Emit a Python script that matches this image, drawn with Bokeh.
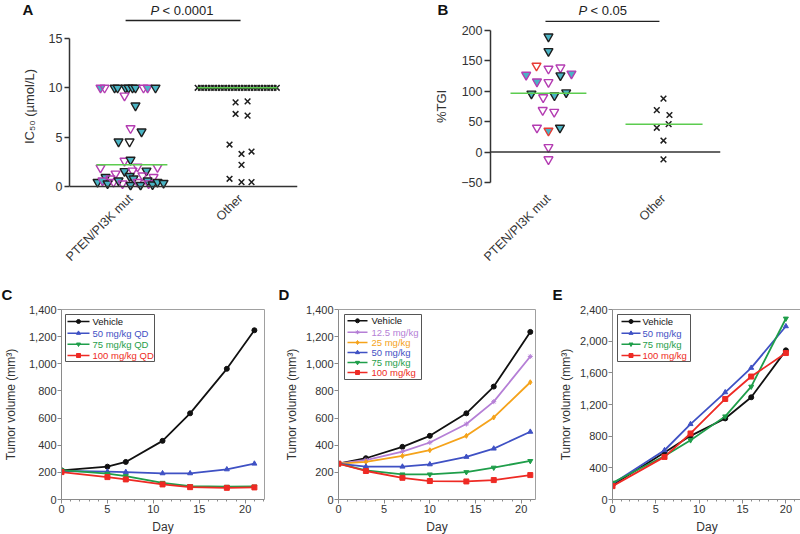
import math
from bokeh.plotting import figure
from bokeh.layouts import column, row
from bokeh.models import (ColumnDataSource, FixedTicker, SingleIntervalTicker, LinearAxis,
                          NumeralTickFormatter, Span, Range1d)
from bokeh.core.properties import value
from bokeh.embed import file_html
from bokeh.resources import INLINE

FONT = "Liberation Sans"

# ---------------- Panel A data (IC50, umol/L) ----------------
a_categories = ["PTEN/PI3K mut", "Other"]
a_pten_ic50 = [10, 10, 10, 10, 10, 10, 10, 10, 10, 10, 10,
               9.2, 8.2, 5.9, 5.56, 4.55, 4.55, 2.6, 2.7,
               1.9, 1.55, 1.6, 2.0, 1.6, 1.95, 1.3, 0.95, 0.8, 1.05, 1.1, 0.95, 0.8,
               0.45, 0.6, 0.3, 0.45, 0.6, 0.3, 0.15, 0.45, 0.15, 0.6, 0.3, 0.2, 0.45, 0.35]
a_pten_jitter = [-0.273, -0.236, -0.145, -0.118, -0.045, -0.018, 0.018, 0.045, 0.118, 0.155, 0.227,
                 -0.055, 0.045, 0.0, 0.1, -0.109, -0.009, -0.055, 0.0,
                 -0.273, -0.055, 0.018, 0.064, 0.145, 0.245, -0.136, -0.227, -0.182, -0.009, 0.109, 0.209, 0.027,
                 -0.3, -0.255, -0.209, -0.155, -0.109, -0.073, 0.0, 0.064, 0.091, 0.155, 0.164, 0.2, 0.245, 0.3]
a_pten_kind = ["MC", "M", "C", "C", "C", "C", "C", "C", "M", "MC", "C",
               "M", "C", "M", "C", "C", "K", "M", "C",
               "M", "C", "M", "M", "C", "M", "M", "C", "M", "C", "M", "M", "C",
               "C", "MC", "C", "M", "C", "M", "C", "M", "C", "C", "M", "C", "C", "C"]
a_other_ic50 = [10] * 25 + [8.53, 8.63, 7.35, 7.18, 4.25, 3.3, 3.54, 2.19, 0.78, 0.44, 0.44]
a_other_jitter = [-0.39, -0.36, -0.33, -0.30, -0.27, -0.24, -0.21, -0.18, -0.15, -0.12, -0.09, -0.06,
                  -0.03, 0.0, 0.03, 0.06, 0.09, 0.12, 0.15, 0.18, 0.21, 0.24, 0.27, 0.30, 0.33,
                  -0.045, 0.064, -0.045, 0.064, -0.1, 0.009, 0.1, 0.009, -0.1, 0.009, 0.1]
a_median = [2.2, 10.0]
a_pvalue = "< 0.0001"

# ---------------- Panel B data (%TGI) ----------------
b_pten_tgi = [190, 166, 142, 137, 139, 127, 126, 129, 116, 115, 96, 90, 93, 98,
              69, 66, 40, 35, 40, 8, -12]
b_pten_jitter = [0.0, 0.0, -0.104, 0.0, 0.104, -0.194, 0.104, 0.2, -0.1, 0.0, -0.148, -0.046, 0.052, 0.154,
                 -0.05, 0.05, -0.1, 0.0, 0.1, 0.0, 0.0]
b_pten_kind = ["C", "C", "R", "M", "M", "MC", "C", "MC", "MC", "M", "C", "M", "C", "C",
               "M", "M", "M", "RC", "C", "M", "M"]
b_other_tgi = [88, 69, 61, 46, 40, 19, -12]
b_other_jitter = [0.0, -0.058, 0.052, 0.045, -0.058, 0.0, 0.0]
b_median = [97, 46]
b_pvalue = "< 0.05"

# ---------------- Panel C data (tumor volume, mm3) ----------------
c_days = [0, 5, 7, 11, 14, 18, 21]
c_vehicle = [215, 242, 277, 432, 635, 963, 1247]
c_50qd = [210, 205, 202, 193, 193, 222, 264]
c_75qd = [217, 190, 173, 123, 99, 94, 96]
c_100qd = [202, 165, 148, 111, 91, 86, 89]
c_names = ["Vehicle", "50 mg/kg QD", "75 mg/kg QD", "100 mg/kg QD"]

# ---------------- Panel D data ----------------
d_days = [0, 3, 7, 10, 14, 17, 21]
d_vehicle = [264, 304, 388, 469, 635, 832, 1235]
d_12_5 = [264, 291, 353, 420, 556, 721, 1054]
d_25 = [264, 277, 321, 363, 469, 605, 864]
d_50 = [264, 242, 242, 259, 314, 375, 499]
d_75 = [264, 215, 185, 185, 202, 235, 284]
d_100 = [264, 210, 160, 136, 133, 143, 180]
d_names = ["Vehicle", "12.5 mg/kg", "25 mg/kg", "50 mg/kg", "75 mg/kg", "100 mg/kg"]

# ---------------- Panel E data ----------------
e_days = [0, 6, 9, 13, 16, 20]
e_vehicle = [182, 593, 804, 1024, 1291, 1884]
e_50 = [199, 622, 952, 1354, 1663, 2188]
e_75 = [212, 550, 749, 1050, 1426, 2286]
e_100 = [169, 538, 834, 1270, 1553, 1850]
e_names = ["Vehicle", "50 mg/kg", "75 mg/kg", "100 mg/kg"]

panel_letters = ["A", "B", "C", "D", "E"]

# ---------------- styles ----------------
MAG = "#b43cb2"
CYAN = "#4ab4c4"
DARK = "#1e1e1e"
RED_T = "#e83a34"
GREEN_MED = "#5ccc4f"
KIND = {"M": (MAG, "#ffffff", 0.0), "C": (DARK, CYAN, 1.0), "MC": (MAG, CYAN, 1.0),
        "K": (DARK, "#ffffff", 0.0), "R": (RED_T, "#ffffff", 0.0), "RC": (RED_T, CYAN, 1.0)}

BLACK = "#111111"
BLUE = "#3f51c4"
GREEN = "#1f9e4a"
RED = "#ee2a24"
PURPLE = "#b57fd6"
ORANGE = "#f5a31b"


def mapper(x0, x1, fw, y0, y1, fh):
    fx = lambda px: x0 + px * (x1 - x0) / fw
    fy = lambda py: y1 - py * (y1 - y0) / fh
    return fx, fy


def bare(width, height, xr):
    h = figure(width=width, height=height, x_range=Range1d(*xr), y_range=Range1d(height, 0),
               min_border=0, x_axis_location=None, y_axis_location=None,
               output_backend="svg", toolbar_location=None)
    h.grid.visible = False
    h.outline_line_color = None
    return h


def letter(h, x, y, txt):
    h.text(x=[x], y=[y], text=[txt], text_font=value(FONT), text_font_size=value("15px"),
           text_font_style=value("bold"), text_baseline="top", text_align="left",
           text_color="#111111")


def header(width, frame_left_px, x_at_frame_left, scale, letter_px, letter_txt, p_px, txt,
           line_x, line_y):
    start = x_at_frame_left - frame_left_px / scale
    end = start + width / scale
    h = bare(width, 22, (start, end))
    hx = lambda px: start + px / scale
    letter(h, hx(letter_px), 0, letter_txt)
    h.text(x=[hx(p_px)], y=[2], text=["P"], text_font=value(FONT), text_font_size=value("13px"),
           text_font_style=value("italic"), text_baseline="top", text_align="left", text_color="#222222")
    h.text(x=[hx(p_px + 12)], y=[2], text=[txt], text_font=value(FONT), text_font_size=value("13px"),
           text_baseline="top", text_align="left", text_color="#222222")
    h.segment(x0=[line_x[0]], y0=[line_y], x1=[line_x[1]], y1=[line_y], line_color="#222222",
              line_width=1.5)
    return h


def dot_panel(fw, fh, mbl, mbr, xr, yr, ticks, bounds, ylabel, tick_out, label_overrides):
    p = figure(frame_width=fw, frame_height=fh, min_border_left=mbl, min_border_right=mbr,
               min_border_top=0, min_border_bottom=80,
               x_range=Range1d(*xr), y_range=Range1d(*yr),
               output_backend="svg", toolbar_location=None)
    p.outline_line_color = None
    p.grid.visible = False
    ya = p.left[0]
    ya.ticker = FixedTicker(ticks=ticks)
    ya.bounds = bounds
    ya.axis_line_color = "#333333"
    ya.axis_line_width = 1.5
    ya.major_tick_line_color = "#333333"
    ya.major_tick_line_width = 1.5
    ya.major_tick_out = tick_out
    ya.major_tick_in = 0
    ya.minor_tick_line_color = None
    ya.major_label_standoff = 2
    ya.major_label_text_font = FONT
    ya.major_label_text_font_size = "12.5px"
    ya.major_label_text_color = "#333333"
    ya.major_label_overrides = label_overrides
    ya.axis_label = ylabel
    ya.axis_label_text_font = FONT
    ya.axis_label_text_font_size = "13px"
    ya.axis_label_text_font_style = "normal"
    ya.axis_label_text_color = "#333333"
    ya.axis_label_standoff = 9
    xa = p.below[0]
    xa.ticker = FixedTicker(ticks=[0, 1])
    xa.major_label_overrides = {0: a_categories[0], 1: a_categories[1]}
    xa.major_label_orientation = math.pi / 4
    xa.axis_line_color = None
    xa.major_tick_line_color = None
    xa.minor_tick_line_color = None
    xa.major_tick_out = 0
    xa.major_tick_in = 0
    xa.major_label_standoff = 6
    xa.major_label_text_font = FONT
    xa.major_label_text_font_size = "12.5px"
    xa.major_label_text_color = "#333333"
    p.add_layout(Span(location=0, dimension="width", line_color="#333333", line_width=1.5))
    return p


def tri_source(vals, jit, kinds, cat):
    return ColumnDataSource(dict(
        x=[cat + j for j in jit], y=vals,
        lc=[KIND[k][0] for k in kinds], fc=[KIND[k][1] for k in kinds],
        fa=[KIND[k][2] for k in kinds]))


# ---------------- Panel A ----------------
A_XR = (-0.555, 1.518)
A_YR = (-0.405, 16.62)
pa = dot_panel(228, 168, 69, 103, A_XR, A_YR, [0, 5, 10, 15], (0, 15),
               "IC\u2085\u2080 (\u00b5mol/L)", 5, {})
pa.scatter("x", "y", source=tri_source(a_pten_ic50, a_pten_jitter, a_pten_kind, 0),
           marker="inverted_triangle", size=9, line_color="lc", fill_color="fc", fill_alpha="fa",
           line_width=1.4)
pa.scatter(x=[1 + j for j in a_other_jitter], y=a_other_ic50, marker="x", size=8,
           line_color=DARK, line_width=1.5)
pa.segment(x0=[0 - 0.31, 1 - 0.39], y0=a_median, x1=[0 + 0.335, 1 + 0.335], y1=a_median,
           line_color=GREEN_MED, line_width=1.5)
ha = header(400, 69, A_XR[0], 110.0, 22, panel_letters[0], 150, a_pvalue, (0 - 0.045, 1.0), 20)

# ---------------- Panel B ----------------
B_XR = (-0.504, 1.496)
B_YR = (-63.2, 213.2)
pb = dot_panel(230, 168, 90, 80, B_XR, B_YR, [-50, 0, 50, 100, 150, 200], (-50, 200),
               "%TGI", 6, {-50: "\u221250"})
pb.scatter("x", "y", source=tri_source(b_pten_tgi, b_pten_jitter, b_pten_kind, 0),
           marker="inverted_triangle", size=9, line_color="lc", fill_color="fc", fill_alpha="fa",
           line_width=1.4)
pb.scatter(x=[1 + j for j in b_other_jitter], y=b_other_tgi, marker="x", size=8,
           line_color=DARK, line_width=1.5)
pb.segment(x0=[0 - 0.33, 1 - 0.33], y0=b_median, x1=[0 + 0.33, 1 + 0.34], y1=b_median,
           line_color=GREEN_MED, line_width=1.5)
hb = header(400, 90, B_XR[0], 115.0, 37, panel_letters[1], 178, b_pvalue, (0 - 0.026, 0.965), 21)


# ---------------- Curve panels ----------------
def curve_panel(fw, mbl, mbr, x_end, y_end, y_step, ylab_standoff, days, series, names, colors,
                markers, legend_box, legend_rows, line_x, text_x):
    FH = 190
    p = figure(frame_width=fw, frame_height=FH, min_border_left=mbl, min_border_right=mbr,
               min_border_top=8, min_border_bottom=36,
               x_range=Range1d(0, x_end), y_range=Range1d(0, y_end),
               output_backend="svg", toolbar_location=None)
    p.grid.visible = False
    p.outline_line_color = None
    xa = p.below[0]
    ya = p.left[0]
    for ax in (xa, ya):
        ax.axis_line_color = "#8a8a8a"
        ax.axis_line_width = 1
        ax.major_tick_line_color = "#8a8a8a"
        ax.minor_tick_line_color = "#8a8a8a"
        ax.major_tick_out = 4
        ax.major_tick_in = 0
        ax.minor_tick_out = 2
        ax.minor_tick_in = 0
        ax.major_label_standoff = 1
        ax.major_label_text_font = FONT
        ax.major_label_text_font_size = "11px"
        ax.major_label_text_color = "#333333"
        ax.axis_label_text_font = FONT
        ax.axis_label_text_font_size = "12px"
        ax.axis_label_text_font_style = "normal"
        ax.axis_label_text_color = "#333333"
    xa.ticker = SingleIntervalTicker(interval=5, num_minor_ticks=5)
    xa.axis_label = "Day"
    xa.axis_label_standoff = 4
    ya.ticker = SingleIntervalTicker(interval=y_step, num_minor_ticks=0)
    ya.formatter = NumeralTickFormatter(format="0,0")
    ya.axis_label = "Tumor volume (mm\u00b3)"
    ya.axis_label_standoff = ylab_standoff
    for loc in ("above", "right"):
        ax = LinearAxis(ticker=FixedTicker(ticks=[]), axis_line_color="#a0a0a0",
                        major_tick_line_color=None, minor_tick_line_color=None,
                        major_tick_out=0, major_tick_in=0, major_label_standoff=0)
        p.add_layout(ax, loc)
    for ys, c, m in zip(series, colors, markers):
        p.line(days, ys, line_color=c, line_width=1.8)
        p.scatter(days, ys, marker=m, size=5, color=c)
    fx, fy = mapper(0, x_end, fw, 0, y_end, FH)
    l, r, t, b = legend_box
    p.quad(left=[fx(l)], right=[fx(r)], top=[fy(t)], bottom=[fy(b)], fill_color="white",
           line_color="#555555", line_width=1)
    n = len(names)
    ys = [fy(v) for v in legend_rows]
    p.segment(x0=[fx(line_x[0])] * n, y0=ys, x1=[fx(line_x[1])] * n, y1=ys,
              line_color=colors, line_width=1.5)
    p.scatter(x=[fx((line_x[0] + line_x[1]) / 2)] * n, y=ys, marker=markers, size=4, color=colors)
    p.text(x=[fx(text_x)] * n, y=ys, text=names, text_color=colors, text_baseline="middle",
           text_align="left", text_font=value(FONT), text_font_size=value("9.5px"))
    return p


pc = curve_panel(203, 57, 8, 22.1, 1400, 200, 8, c_days,
                 [c_vehicle, c_50qd, c_75qd, c_100qd], c_names,
                 [BLACK, BLUE, GREEN, RED], ["circle", "triangle", "inverted_triangle", "square"],
                 (4, 93, 5, 52), [12, 23.7, 34.7, 46], (6, 28), 31)
pd_ = curve_panel(197, 66, 1, 21.57, 1400, 200, 4, d_days,
                  [d_vehicle, d_12_5, d_25, d_50, d_75, d_100], d_names,
                  [BLACK, PURPLE, ORANGE, BLUE, GREEN, RED],
                  ["circle", "asterisk", "diamond", "triangle", "inverted_triangle", "square"],
                  (6, 83, 5, 70), [11.3, 22.7, 33, 43, 53, 63], (9, 29), 33)
pe = curve_panel(189, 76, 3, 21.8, 2400, 400, 4, e_days,
                 [e_vehicle, e_50, e_75, e_100], e_names,
                 [BLACK, BLUE, GREEN, RED], ["circle", "triangle", "inverted_triangle", "square"],
                 (5, 78, 5, 52), [12, 23.7, 34.7, 46], (9, 28), 30)

# header strip with letters C, D, E
hcde = bare(800, 30, (0, 800))
for txt, px in zip(panel_letters[2:], [1, 278, 552]):
    letter(hcde, px, 14, txt)

layout = column(row(ha, hb), row(pa, pb), hcde, row(pc, pd_, pe))
open("out.html", "w").write(file_html(layout, INLINE))
